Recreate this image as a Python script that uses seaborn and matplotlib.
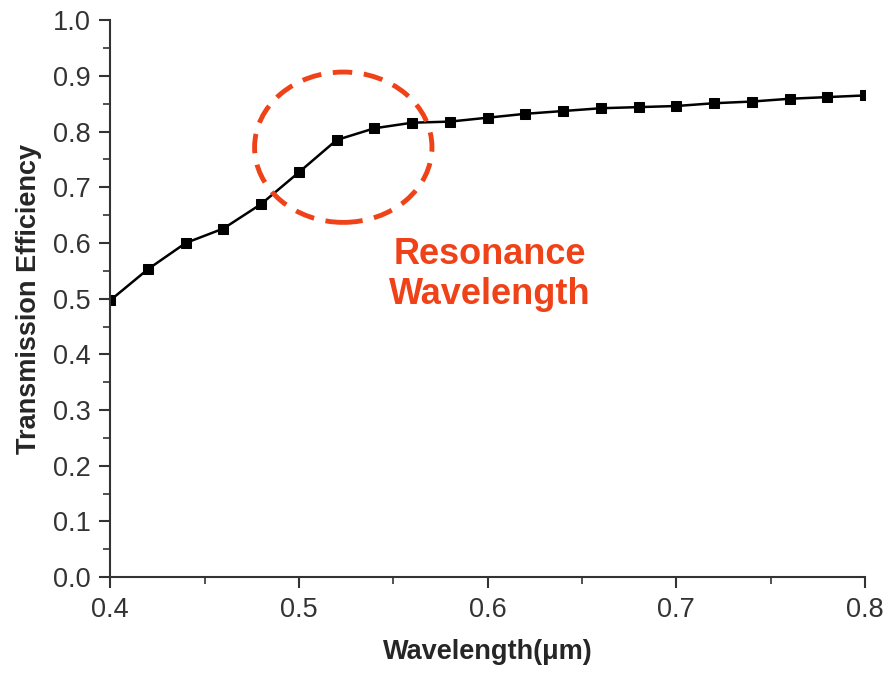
import numpy as np
import pandas as pd
import seaborn as sns
import matplotlib
matplotlib.use("Agg")
import matplotlib.pyplot as plt
from matplotlib.patches import Ellipse
from matplotlib.ticker import MultipleLocator

wavelength = [0.40, 0.42, 0.44, 0.46, 0.48, 0.50, 0.52, 0.54, 0.56, 0.58, 0.60,
              0.62, 0.64, 0.66, 0.68, 0.70, 0.72, 0.74, 0.76, 0.78, 0.80]
efficiency = [0.497, 0.553, 0.600, 0.626, 0.670, 0.727, 0.785, 0.806, 0.816, 0.818, 0.825,
              0.832, 0.837, 0.842, 0.844, 0.846, 0.851, 0.854, 0.859, 0.862, 0.865]

df = pd.DataFrame({"Wavelength": wavelength, "Efficiency": efficiency})

sns.set_theme(style="ticks")
plt.rcParams['font.family'] = ['Liberation Sans', 'DejaVu Sans']

fig = plt.figure(figsize=(8.89, 6.75), dpi=100)
ax = fig.add_axes([0.124, 0.145, 0.849, 0.825])

sns.lineplot(data=df, x="Wavelength", y="Efficiency", ax=ax, color="black",
             marker="s", markersize=7, linewidth=1.8, markeredgecolor="black")

ax.set_xlim(0.4, 0.8)
ax.set_ylim(0.0, 1.0)
ax.xaxis.set_major_locator(MultipleLocator(0.1))
ax.xaxis.set_minor_locator(MultipleLocator(0.05))
ax.yaxis.set_major_locator(MultipleLocator(0.1))
ax.yaxis.set_minor_locator(MultipleLocator(0.05))
ax.set_xticklabels([f"{v:.1f}" for v in ax.get_xticks()])
ax.set_yticklabels([f"{v:.1f}" for v in ax.get_yticks()])
ax.tick_params(which="major", direction="out", length=8, width=1.5, labelsize=19.5,
               colors="#333333", pad=6)
ax.tick_params(which="minor", direction="out", length=5, width=1.2, colors="#333333")

for s in ["top", "right"]:
    ax.spines[s].set_visible(False)
for s in ["left", "bottom"]:
    ax.spines[s].set_linewidth(1.5)
    ax.spines[s].set_color("#333333")

ax.set_xlabel("Wavelength(\u03bcm)", fontsize=19.5, fontweight="bold", labelpad=12)
ax.set_ylabel("Transmission Efficiency", fontsize=19.5, fontweight="bold", labelpad=8)

ell = Ellipse((0.5235, 0.772), 0.094, 0.27, fill=False, edgecolor="#F04218",
              linestyle=(0, (4, 2.4)), linewidth=3.5, zorder=5)
ax.add_patch(ell)

ax.text(0.601, 0.543, "Resonance\nWavelength", color="#F04218", fontsize=26,
        fontweight="bold", ha="center", va="center", linespacing=1.2)

fig.savefig("out.png", dpi=100, facecolor="white")
